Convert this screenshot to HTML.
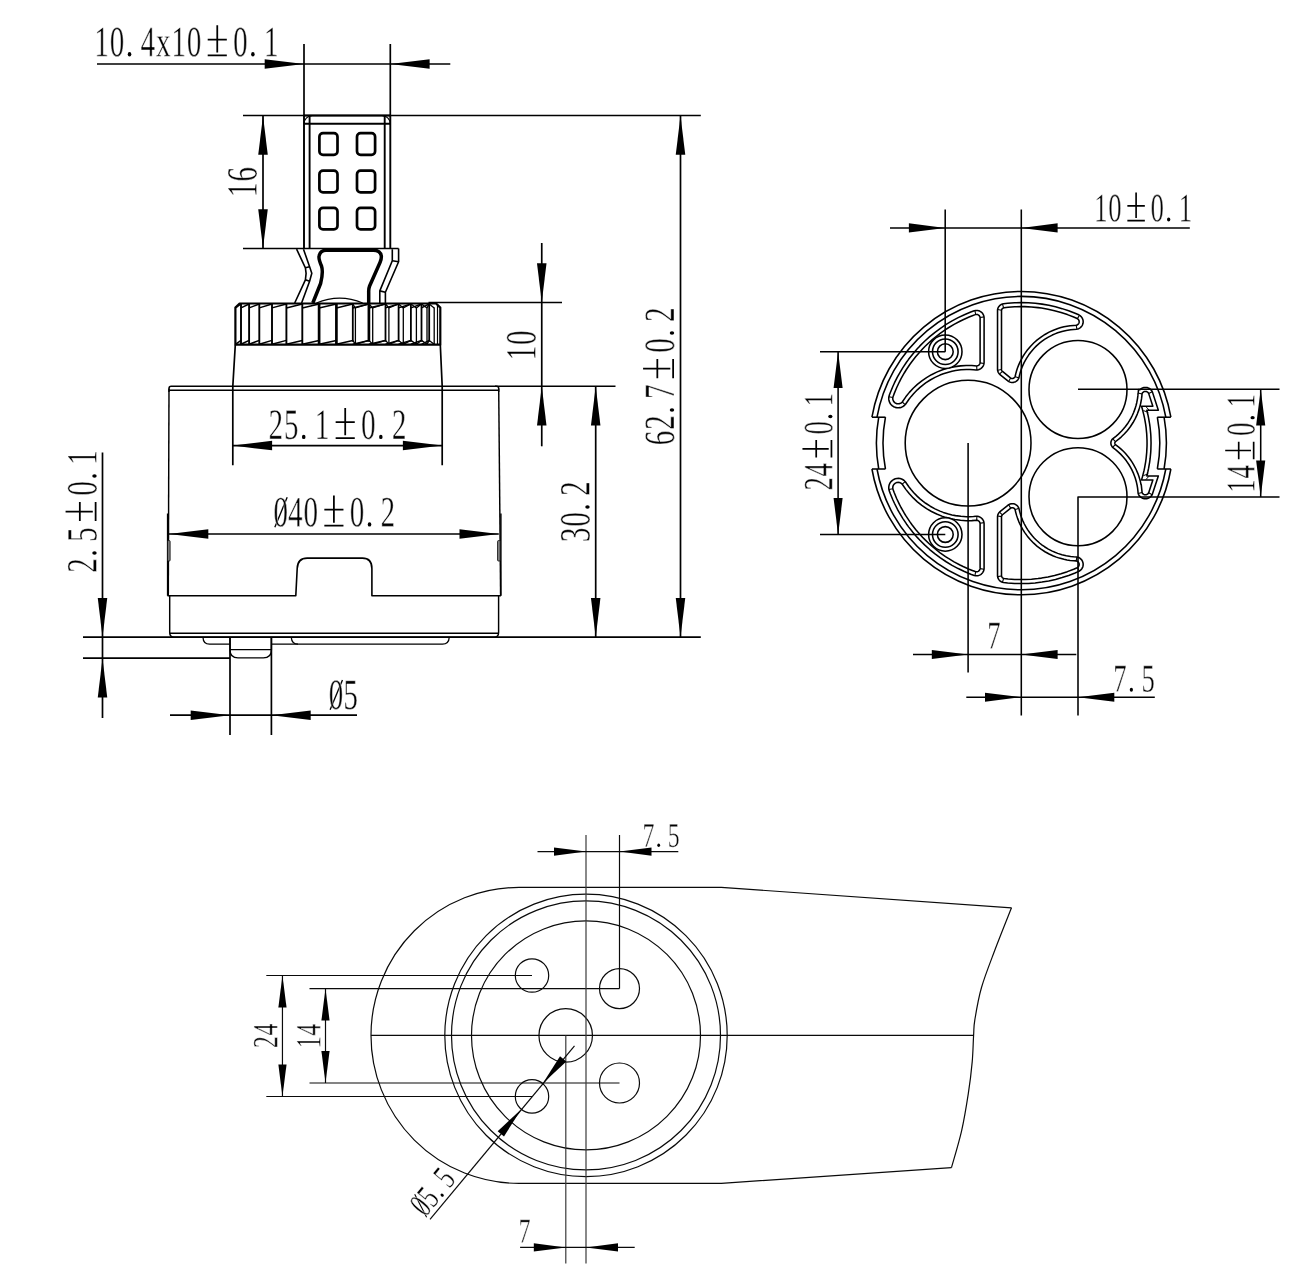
<!DOCTYPE html>
<html><head><meta charset="utf-8"><title>Cartridge drawing</title>
<style>
html,body{margin:0;padding:0;background:#fff;}
body{width:1297px;height:1280px;overflow:hidden;font-family:"Liberation Serif",serif;}
svg{display:block;}
svg text{font-family:"Liberation Serif",serif;}
</style></head><body>
<svg width="1297" height="1280" viewBox="0 0 1297 1280" fill="none" stroke-linecap="butt" stroke-linejoin="round">
<rect x="0" y="0" width="1297" height="1280" fill="#fff"/>
<defs><path id="g0" d="M462 -330Q462 10 247 10Q144 10 91 -77Q38 -164 38 -330Q38 -493 91 -579Q144 -665 251 -665Q354 -665 408 -580Q462 -495 462 -330ZM372 -330Q372 -487 342 -557Q312 -626 247 -626Q184 -626 156 -561Q128 -495 128 -330Q128 -164 156 -96Q185 -29 247 -29Q312 -29 342 -100Q372 -171 372 -330Z" vector-effect="non-scaling-stroke"/><path id="g1" d="M306 -39 440 -26V0H88V-26L222 -39V-573L90 -526V-552L281 -660H306Z" vector-effect="non-scaling-stroke"/><path id="g2" d="M445 0H44V-72L135 -154Q222 -231 263 -278Q304 -326 322 -376Q340 -426 340 -491Q340 -555 311 -588Q282 -621 217 -621Q191 -621 164 -614Q136 -607 115 -595L98 -515H66V-641Q155 -662 217 -662Q324 -662 378 -617Q432 -573 432 -491Q432 -437 411 -388Q390 -339 346 -291Q302 -243 200 -157Q157 -120 108 -75H445Z" vector-effect="non-scaling-stroke"/><path id="g3" d="M461 -178Q461 -90 400 -40Q340 10 229 10Q136 10 53 -11L48 -149H80L102 -57Q121 -46 156 -39Q191 -31 221 -31Q298 -31 334 -66Q371 -101 371 -183Q371 -248 337 -281Q304 -314 233 -318L163 -322V-362L233 -366Q288 -369 314 -400Q341 -432 341 -495Q341 -561 312 -591Q284 -621 221 -621Q195 -621 167 -614Q139 -607 117 -595L100 -515H68V-641Q116 -654 151 -658Q187 -662 221 -662Q431 -662 431 -501Q431 -433 394 -393Q356 -353 288 -343Q377 -333 419 -292Q461 -251 461 -178Z" vector-effect="non-scaling-stroke"/><path id="g4" d="M396 -144V0H312V-144H20V-209L339 -658H396V-214H484V-144ZM312 -543H309L75 -214H312Z" vector-effect="non-scaling-stroke"/><path id="g5" d="M237 -383Q350 -383 406 -336Q461 -290 461 -195Q461 -96 401 -43Q341 10 229 10Q136 10 63 -11L58 -149H90L112 -57Q134 -45 164 -38Q194 -31 221 -31Q298 -31 335 -67Q371 -104 371 -190Q371 -250 355 -281Q340 -312 306 -327Q271 -342 214 -342Q169 -342 127 -330H80V-655H412V-580H124V-371Q177 -383 237 -383Z" vector-effect="non-scaling-stroke"/><path id="g6" d="M470 -203Q470 -101 419 -46Q367 10 270 10Q160 10 101 -76Q43 -162 43 -323Q43 -429 74 -505Q104 -582 160 -622Q215 -662 288 -662Q359 -662 430 -645V-532H398L381 -599Q365 -608 337 -615Q310 -621 288 -621Q217 -621 177 -552Q137 -483 133 -350Q213 -392 293 -392Q379 -392 425 -344Q470 -295 470 -203ZM268 -29Q327 -29 354 -67Q380 -105 380 -194Q380 -274 355 -310Q330 -345 275 -345Q208 -345 133 -321Q133 -172 167 -100Q200 -29 268 -29Z" vector-effect="non-scaling-stroke"/><path id="g7" d="M98 -500H66V-655H471V-617L179 0H116L403 -580H115Z" vector-effect="non-scaling-stroke"/><path id="gx" d="M488 -22V0H280V-22L341 -33L235 -196L111 -32L174 -22V0H9V-22L62 -30L213 -229L80 -425L26 -437V-459H234V-437L173 -424L261 -292L363 -425L300 -437V-459H465V-437L412 -427L283 -260L434 -32Z" vector-effect="non-scaling-stroke"/></defs>
<g transform="translate(93.9 56.2) rotate(0)"><ellipse cx="35.62" cy="-2.02" rx="1.77" ry="2.22" fill="#000"/><path d="M113.8 -16.67H132.92M123.36 -30.92V-3.71M113.8 -0.88H132.92" stroke="#000" stroke-width="1.77" fill="none"/><ellipse cx="158.98" cy="-2.02" rx="1.77" ry="2.22" fill="#000"/><g fill="#000" stroke="#fff" stroke-width="0.5"><use href="#g1" transform="translate(0.42 0) scale(0.02916 0.04318)"/><use href="#g0" transform="translate(15.84 0) scale(0.02916 0.04318)"/><use href="#g4" transform="translate(46.68 0) scale(0.02916 0.04318)"/><use href="#gx" transform="translate(62.1 0) scale(0.02916 0.04318)"/><use href="#g1" transform="translate(77.52 0) scale(0.02916 0.04318)"/><use href="#g0" transform="translate(92.94 0) scale(0.02916 0.04318)"/><use href="#g0" transform="translate(139.2 0) scale(0.02916 0.04318)"/><use href="#g1" transform="translate(170.04 0) scale(0.02916 0.04318)"/></g></g>
<path d="M97 64L450.3 64" stroke="#000" stroke-width="1.7"/>
<path d="M304 64L264.7 68.75L264.7 59.25Z" fill="#000" stroke="none"/>
<path d="M390.3 64L429.6 59.25L429.6 68.75Z" fill="#000" stroke="none"/>
<path d="M304 44L304 116" stroke="#000" stroke-width="1.7"/>
<path d="M390.3 44L390.3 116" stroke="#000" stroke-width="1.7"/>
<path d="M243 115.5L700.8 115.5" stroke="#000" stroke-width="1.7"/>
<path d="M243 248.5L398.6 248.5" stroke="#000" stroke-width="1.7"/>
<path d="M263 115.5L263 248.5" stroke="#000" stroke-width="1.7"/>
<path d="M263 115.5L267.75 154.8L258.25 154.8Z" fill="#000" stroke="none"/>
<path d="M263 248.5L258.25 209.2L267.75 209.2Z" fill="#000" stroke="none"/>
<g transform="translate(256.6 197.42) rotate(-90)"><g fill="#000" stroke="#fff" stroke-width="0.5"><use href="#g1" transform="translate(0.42 0) scale(0.02916 0.04318)"/><use href="#g6" transform="translate(15.84 0) scale(0.02916 0.04318)"/></g></g>
<path d="M541.75 243L541.75 446.3" stroke="#000" stroke-width="1.7"/>
<path d="M541.75 302.5L537 263.2L546.5 263.2Z" fill="#000" stroke="none"/>
<path d="M541.75 386.25L546.5 425.55L537 425.55Z" fill="#000" stroke="none"/>
<path d="M428.5 302.5L562 302.5" stroke="#000" stroke-width="1.7"/>
<path d="M495 386.25L615.5 386.25" stroke="#000" stroke-width="1.7"/>
<g transform="translate(535.5 360.82) rotate(-90)"><g fill="#000" stroke="#fff" stroke-width="0.5"><use href="#g1" transform="translate(0.42 0) scale(0.02916 0.04318)"/><use href="#g0" transform="translate(15.84 0) scale(0.02916 0.04318)"/></g></g>
<path d="M595.7 386.25L595.7 637.2" stroke="#000" stroke-width="1.7"/>
<path d="M595.7 386.25L600.45 425.55L590.95 425.55Z" fill="#000" stroke="none"/>
<path d="M595.7 637.2L590.95 597.9L600.45 597.9Z" fill="#000" stroke="none"/>
<g transform="translate(589.5 542.54) rotate(-90)"><ellipse cx="35.62" cy="-2.02" rx="1.77" ry="2.22" fill="#000"/><g fill="#000" stroke="#fff" stroke-width="0.5"><use href="#g3" transform="translate(0.42 0) scale(0.02916 0.04318)"/><use href="#g0" transform="translate(15.84 0) scale(0.02916 0.04318)"/><use href="#g2" transform="translate(46.68 0) scale(0.02916 0.04318)"/></g></g>
<path d="M680.5 115.5L680.5 637.2" stroke="#000" stroke-width="1.7"/>
<path d="M680.5 115.5L685.25 154.8L675.75 154.8Z" fill="#000" stroke="none"/>
<path d="M680.5 637.2L675.75 597.9L685.25 597.9Z" fill="#000" stroke="none"/>
<g transform="translate(674 445.69) rotate(-90)"><ellipse cx="35.62" cy="-2.02" rx="1.77" ry="2.22" fill="#000"/><path d="M67.54 -16.67H86.66M77.1 -30.92V-3.71M67.54 -0.88H86.66" stroke="#000" stroke-width="1.77" fill="none"/><ellipse cx="112.72" cy="-2.02" rx="1.77" ry="2.22" fill="#000"/><g fill="#000" stroke="#fff" stroke-width="0.5"><use href="#g6" transform="translate(0.42 0) scale(0.02916 0.04318)"/><use href="#g2" transform="translate(15.84 0) scale(0.02916 0.04318)"/><use href="#g7" transform="translate(46.68 0) scale(0.02916 0.04318)"/><use href="#g0" transform="translate(92.94 0) scale(0.02916 0.04318)"/><use href="#g2" transform="translate(123.78 0) scale(0.02916 0.04318)"/></g></g>
<path d="M83 637.2L700.8 637.2" stroke="#000" stroke-width="1.7"/>
<path d="M102.5 452.5L102.5 718" stroke="#000" stroke-width="1.7"/>
<path d="M102.5 637.2L97.75 597.9L107.25 597.9Z" fill="#000" stroke="none"/>
<path d="M102.5 658.2L107.25 697.5L97.75 697.5Z" fill="#000" stroke="none"/>
<path d="M83 658.2L230 658.2" stroke="#000" stroke-width="1.7"/>
<g transform="translate(96.5 573.2) rotate(-90)"><ellipse cx="20.2" cy="-2.02" rx="1.77" ry="2.22" fill="#000"/><path d="M52.12 -16.67H71.24M61.68 -30.92V-3.71M52.12 -0.88H71.24" stroke="#000" stroke-width="1.77" fill="none"/><ellipse cx="97.3" cy="-2.02" rx="1.77" ry="2.22" fill="#000"/><g fill="#000" stroke="#fff" stroke-width="0.5"><use href="#g2" transform="translate(0.42 0) scale(0.02916 0.04318)"/><use href="#g5" transform="translate(31.26 0) scale(0.02916 0.04318)"/><use href="#g0" transform="translate(77.52 0) scale(0.02916 0.04318)"/><use href="#g1" transform="translate(108.36 0) scale(0.02916 0.04318)"/></g></g>
<path d="M232.8 445.6L442.2 445.6" stroke="#000" stroke-width="1.7"/>
<path d="M232.8 445.6L272.1 440.85L272.1 450.35Z" fill="#000" stroke="none"/>
<path d="M442.2 445.6L402.9 450.35L402.9 440.85Z" fill="#000" stroke="none"/>
<g transform="translate(268.11 438.9) rotate(0)"><ellipse cx="35.62" cy="-2.02" rx="1.77" ry="2.22" fill="#000"/><path d="M67.54 -16.67H86.66M77.1 -30.92V-3.71M67.54 -0.88H86.66" stroke="#000" stroke-width="1.77" fill="none"/><ellipse cx="112.72" cy="-2.02" rx="1.77" ry="2.22" fill="#000"/><g fill="#000" stroke="#fff" stroke-width="0.5"><use href="#g2" transform="translate(0.42 0) scale(0.02916 0.04318)"/><use href="#g5" transform="translate(15.84 0) scale(0.02916 0.04318)"/><use href="#g1" transform="translate(46.68 0) scale(0.02916 0.04318)"/><use href="#g0" transform="translate(92.94 0) scale(0.02916 0.04318)"/><use href="#g2" transform="translate(123.78 0) scale(0.02916 0.04318)"/></g></g>
<path d="M169 534L498.8 534" stroke="#000" stroke-width="1.7"/>
<path d="M169 534L208.3 529.25L208.3 538.75Z" fill="#000" stroke="none"/>
<path d="M498.8 534L459.5 538.75L459.5 529.25Z" fill="#000" stroke="none"/>
<g transform="translate(272.22 526.4) rotate(0)"><path d="M2.62 0.85L14.96 -29.07" stroke="#000" stroke-width="1.33"/><path d="M52.12 -16.67H71.24M61.68 -30.92V-3.71M52.12 -0.88H71.24" stroke="#000" stroke-width="1.77" fill="none"/><ellipse cx="97.3" cy="-2.02" rx="1.77" ry="2.22" fill="#000"/><g fill="#000" stroke="#fff" stroke-width="0.5"><use href="#g0" transform="translate(1.19 0) scale(0.02916 0.04318)"/><use href="#g4" transform="translate(15.84 0) scale(0.02916 0.04318)"/><use href="#g0" transform="translate(31.26 0) scale(0.02916 0.04318)"/><use href="#g0" transform="translate(77.52 0) scale(0.02916 0.04318)"/><use href="#g2" transform="translate(108.36 0) scale(0.02916 0.04318)"/></g></g>
<path d="M170 715.2L357 715.2" stroke="#000" stroke-width="1.7"/>
<path d="M230 715.2L190.7 719.95L190.7 710.45Z" fill="#000" stroke="none"/>
<path d="M271.4 715.2L310.7 710.45L310.7 719.95Z" fill="#000" stroke="none"/>
<path d="M230 637.5L230 735" stroke="#000" stroke-width="1.7"/>
<path d="M271.4 637.5L271.4 735" stroke="#000" stroke-width="1.7"/>
<g transform="translate(327.5 709) rotate(0)"><path d="M2.62 0.85L14.96 -29.07" stroke="#000" stroke-width="1.33"/><g fill="#000" stroke="#fff" stroke-width="0.5"><use href="#g0" transform="translate(1.19 0) scale(0.02916 0.04318)"/><use href="#g5" transform="translate(15.84 0) scale(0.02916 0.04318)"/></g></g>
<path d="M304 248.5V115.5H390.3V248.5" stroke="#000" stroke-width="1.9" fill="none"/>
<path d="M309.6 248.5V115.5M384.7 248.5V115.5" stroke="#000" stroke-width="1.9" fill="none"/>
<path d="M304 123.8L390.3 123.8" stroke="#000" stroke-width="1.9"/>
<path d="M304 123.8A8 8 0 0 1 312 115.7M390.3 123.8A8 8 0 0 0 382.3 115.7" stroke="#000" stroke-width="1.2" fill="none"/>
<rect x="319.4" y="133.2" width="18.1" height="21.6" rx="3.6" stroke="#000" stroke-width="2.7"/>
<rect x="319.4" y="170.7" width="18.1" height="21.6" rx="3.6" stroke="#000" stroke-width="2.7"/>
<rect x="319.4" y="207.8" width="18.1" height="21.6" rx="3.6" stroke="#000" stroke-width="2.7"/>
<rect x="357" y="133.2" width="18.1" height="21.6" rx="3.6" stroke="#000" stroke-width="2.7"/>
<rect x="357" y="170.7" width="18.1" height="21.6" rx="3.6" stroke="#000" stroke-width="2.7"/>
<rect x="357" y="207.8" width="18.1" height="21.6" rx="3.6" stroke="#000" stroke-width="2.7"/>
<path d="M296.6 249.2L305.4 267.8L306.1 273.3L305.4 279.8L294.7 303" stroke="#000" stroke-width="1.6" fill="none"/>
<path d="M303.5 249.2L309.6 266.8L311.8 273.3L309.6 281.2L301.6 303" stroke="#000" stroke-width="1.6" fill="none"/>
<path d="M305.4 267.8L309.6 266.8M305.4 279.8L309.6 281.2" stroke="#000" stroke-width="1.6" fill="none"/>
<path d="M398.6 248.5V261.7L385.4 292.3V303" stroke="#000" stroke-width="1.6" fill="none"/>
<path d="M392.3 249.2V260.8L379.8 290.9V303" stroke="#000" stroke-width="1.6" fill="none"/>
<path d="M392.3 260.8L398.6 261.7M379.8 290.9L385.4 292.3" stroke="#000" stroke-width="1.6" fill="none"/>
<path d="M312.8 303L320.6 283.5Q323.5 272 321.5 266Q318.2 258.5 319.2 255.5Q320.5 250.2 326 250.2H373.5Q380.5 250.4 381.3 256Q381.6 259 380 262.5L369.6 286Q368.6 288.5 368.7 292V303" stroke="#000" stroke-width="3.5" fill="none"/>
<path d="M316.5 303Q339.6 293.2 362.7 303" stroke="#000" stroke-width="1.3" fill="none"/>
<path d="M235.4 344.7 V307.6L239.6 303.5H436.1L440.3 307.6V344.7Z" stroke="#000" stroke-width="2.2" fill="none"/>
<path d="M241 303.5L241 344.7" stroke="#000" stroke-width="1.9"/>
<path d="M249.1 303.5L249.1 344.7" stroke="#000" stroke-width="1.9"/>
<path d="M259.3 303.5L259.3 344.7" stroke="#000" stroke-width="1.9"/>
<path d="M272 303.5L272 344.7" stroke="#000" stroke-width="1.9"/>
<path d="M286.4 303.5L286.4 344.7" stroke="#000" stroke-width="1.9"/>
<path d="M302.3 303.5L302.3 344.7" stroke="#000" stroke-width="1.9"/>
<path d="M319.1 303.5L319.1 344.7" stroke="#000" stroke-width="2.7"/>
<path d="M336.4 303.5L336.4 344.7" stroke="#000" stroke-width="2.7"/>
<path d="M235.4 307.9L241 304M235.4 344.3L241 340.4M241 307.9L249.1 304M241 344.3L249.1 340.4M249.1 307.9L259.3 304M249.1 344.3L259.3 340.4M259.3 307.9L272 304M259.3 344.3L272 340.4M272 307.9L286.4 304M272 344.3L286.4 340.4M286.4 307.9L302.3 304M286.4 344.3L302.3 340.4M302.3 307.9L319.1 304M302.3 344.3L319.1 340.4M319.1 307.9L336.4 304M319.1 344.3L336.4 340.4M336.4 307.9L352.8 304M336.4 344.3L352.8 340.4M352.8 307.9L368.9 304M352.8 344.3L368.9 340.4M368.9 307.9L385.5 304M368.9 344.3L385.5 340.4M385.5 307.9L398.6 304M385.5 344.3L398.6 340.4M398.6 307.9L410.9 304M398.6 344.3L410.9 340.4M410.9 307.9L421.5 304M410.9 344.3L421.5 340.4M421.5 307.9L429.2 304M421.5 344.3L429.2 340.4" stroke="#000" stroke-width="1.5" fill="none"/>
<path d="M352.8 303.5L352.8 341.7" stroke="#000" stroke-width="1.8"/>
<path d="M355.4 307.5L355.4 344.7" stroke="#000" stroke-width="1.3"/>
<path d="M368.9 303.5L368.9 341.7" stroke="#000" stroke-width="2.7"/>
<path d="M372.7 307.5L372.7 344.7" stroke="#000" stroke-width="1.3"/>
<path d="M385.5 303.5L385.5 341.7" stroke="#000" stroke-width="1.8"/>
<path d="M388.9 307.5L388.9 344.7" stroke="#000" stroke-width="1.3"/>
<path d="M398.6 303.5L398.6 341.7" stroke="#000" stroke-width="1.8"/>
<path d="M403.3 307.5L403.3 344.7" stroke="#000" stroke-width="1.3"/>
<path d="M410.9 303.5L410.9 341.7" stroke="#000" stroke-width="1.8"/>
<path d="M416.4 307.5L416.4 344.7" stroke="#000" stroke-width="1.3"/>
<path d="M421.5 303.5L421.5 341.7" stroke="#000" stroke-width="1.8"/>
<path d="M427 307.5L427 344.7" stroke="#000" stroke-width="1.3"/>
<path d="M429.2 303.5L429.2 341.7" stroke="#000" stroke-width="1.8"/>
<path d="M434.2 307.5L434.2 344.7" stroke="#000" stroke-width="1.3"/>
<path d="M352.8 304L355.4 308M352.8 340.4L355.4 344.3M368.9 304L372.7 308M368.9 340.4L372.7 344.3M385.5 304L388.9 308M385.5 340.4L388.9 344.3M398.6 304L403.3 308M398.6 340.4L403.3 344.3M410.9 304L416.4 308M410.9 340.4L416.4 344.3M421.5 304L427 308M421.5 340.4L427 344.3M429.2 304L434.2 308M429.2 340.4L434.2 344.3M355.4 307.9L368.9 304M355.4 344.3L368.9 340.4M372.7 307.9L385.5 304M372.7 344.3L385.5 340.4M388.9 307.9L398.6 304M388.9 344.3L398.6 340.4M403.3 307.9L410.9 304M403.3 344.3L410.9 340.4M416.4 307.9L421.5 304M416.4 344.3L421.5 340.4M427 307.9L429.2 304M427 344.3L429.2 340.4" stroke="#000" stroke-width="1.3" fill="none"/>
<path d="M437.5 304.5L437.5 344.7" stroke="#000" stroke-width="1.2"/>
<path d="M235.3 344.7L232.8 386.3V465.3" stroke="#000" stroke-width="1.7" fill="none"/>
<path d="M440.3 344.7L442.2 386.3V465.3" stroke="#000" stroke-width="1.7" fill="none"/>
<path d="M169 392V388.4Q169 386.3 171.2 386.3H496.4Q498.7 386.3 498.7 388.4V392" stroke="#000" stroke-width="1.45" fill="none"/>
<path d="M169 390.3L498.7 390.3" stroke="#000" stroke-width="1.45"/>
<path d="M169 388.4L168.3 595.7" stroke="#000" stroke-width="1.45" fill="none"/>
<path d="M498.7 388.4L500.6 595.7" stroke="#000" stroke-width="1.45" fill="none"/>
<path d="M167.6 513.5V595.7" stroke="#000" stroke-width="1.45" fill="none"/>
<path d="M500.9 513.5V595.7" stroke="#000" stroke-width="1.45" fill="none"/>
<rect x="167.7" y="540.6" width="2.4" height="20.4" rx="0.8" fill="#8a8a8a" stroke="#111" stroke-width="0.9"/>
<rect x="497.6" y="540.6" width="2.6" height="20.4" rx="0.8" fill="#8a8a8a" stroke="#111" stroke-width="0.9"/>
<path d="M167.5 595.7H295.8L297.2 568.5Q297.6 558.1 307.2 558.1H362.4Q371.9 558.1 371.9 568.5V595.7H500.9" stroke="#000" stroke-width="1.6" fill="none"/>
<path d="M169.7 595.7V632.5Q169.7 637.1 174.2 637.1H494.2Q498.6 637.1 498.6 632.5V595.7" stroke="#000" stroke-width="1.45" fill="none"/>
<path d="M169.7 633.2L498.6 633.2" stroke="#000" stroke-width="1.45"/>
<path d="M203 637.5Q203.3 644.2 209.5 644.2H230" stroke="#000" stroke-width="1.3" fill="none"/>
<path d="M271.4 644.2H442.5Q448.8 644.2 449.2 637.5" stroke="#000" stroke-width="1.3" fill="none"/>
<path d="M291.3 637.5Q291.8 644.2 298 644.2" stroke="#000" stroke-width="1.3" fill="none"/>
<path d="M230 637.5V650Q230 657.9 238 657.9H263.4Q271.4 657.9 271.4 650V637.5" stroke="#000" stroke-width="1.4" fill="none"/>
<path d="M230 649.7L271.4 649.7" stroke="#000" stroke-width="1.3"/>
<path d="M871.93 417.2A151.7 151.7 0 0 1 1170.87 417.2" stroke="#000" stroke-width="1.55" fill="none"/>
<path d="M1170.87 469A151.7 151.7 0 0 1 871.93 469" stroke="#000" stroke-width="1.55" fill="none"/>
<path d="M877 417.2A146.7 146.7 0 0 1 1165.8 417.2" stroke="#000" stroke-width="1.55" fill="none"/>
<path d="M1165.8 469A146.7 146.7 0 0 1 877 469" stroke="#000" stroke-width="1.55" fill="none"/>
<path d="M1164.07 417.2A145 145 0 0 1 1164.07 469" stroke="#000" stroke-width="1.55" fill="none"/>
<path d="M878.73 469A145 145 0 0 1 878.73 417.2" stroke="#000" stroke-width="1.55" fill="none"/>
<path d="M1157.35 417.2A138.4 138.4 0 0 1 1157.35 469" stroke="#000" stroke-width="1.55" fill="none"/>
<path d="M885.45 469A138.4 138.4 0 0 1 885.45 417.2" stroke="#000" stroke-width="1.55" fill="none"/>
<path d="M871.93 417.2L885.45 417.2" stroke="#000" stroke-width="1.55"/>
<path d="M1170.87 417.2L1157.35 417.2" stroke="#000" stroke-width="1.55"/>
<path d="M871.93 469L885.45 469" stroke="#000" stroke-width="1.55"/>
<path d="M1170.87 469L1157.35 469" stroke="#000" stroke-width="1.55"/>
<circle cx="968.1" cy="443.1" r="62.9" stroke="#000" stroke-width="1.55" fill="none"/>
<circle cx="1078" cy="389.5" r="49" stroke="#000" stroke-width="1.55" fill="none"/>
<circle cx="1078" cy="496.7" r="49" stroke="#000" stroke-width="1.55" fill="none"/>
<path d="M984.1 318L984.02 316.91L983.78 315.82L983.38 314.79L982.83 313.82L982.28 313.08L981.5 312.29L980.61 311.62L979.63 311.09L978.76 310.76L977.68 310.51L976.76 310.42L975.65 310.46L974.2 310.77L970.76 312.04L964.39 314.69L958.16 317.64L952.08 320.89L946.16 324.44L940.43 328.28L935.02 332.29L929.69 336.66L924.58 341.29L919.7 346.16L917.24 348.81L912.84 353.91L908.6 359.34L906.48 362.27L902.74 367.86L899.19 373.78L897.45 376.94L894.42 382.96L892.92 386.24L890.34 392.46L889.27 395.34L888.96 396.45L888.78 397.59L888.75 398.74L888.86 399.89L889.06 400.86L889.43 401.95L889.93 402.99L890.55 403.97L891.28 404.85L892.43 405.89L893.79 406.76L895.27 407.38L896.85 407.74L898.46 407.83L900.06 407.64L901.6 407.17L903.05 406.45L904.35 405.5L905.36 404.46L909 399.24L911.22 396.39L913.55 393.69L917.33 389.81L920.04 387.36L922.84 385.06L925.7 382.94L930.24 379.98L934.99 377.37L939.96 375.09L943.33 373.8L948.45 372.17L952 371.28L955.54 370.58L960.91 369.85L966.27 369.52L969.93 369.52L973.49 369.7L976.03 369.93L977.33 369.89L978.42 369.69L979.64 369.26L980.77 368.63L981.64 367.94L982.63 366.84L983.38 365.57L983.88 364.17L984.09 362.71L984.1 318Z" stroke="#000" stroke-width="1.55" fill="none"/>
<path d="M980.1 318.03L980.03 317.32L979.79 316.57L979.4 315.88L978.87 315.3L978.22 314.85L977.49 314.56L976.71 314.42L975.92 314.46L975.33 314.61L972.33 315.73L969.11 317.01L963.09 319.68L959.98 321.2L954.07 324.36L948.42 327.75L945.52 329.64L940.13 333.43L937.38 335.53L932.29 339.7L929.69 342L924.92 346.54L922.5 349.02L918.08 353.9L915.85 356.55L911.8 361.74L909.77 364.55L906.11 370.03L904.29 372.97L901.05 378.7L899.45 381.78L896.63 387.73L894.07 393.92L892.96 396.94L892.75 398.38L892.92 399.8L893.42 401.04L894.29 402.21L895.08 402.88L895.89 403.34L896.76 403.65L897.69 403.81L898.62 403.81L899.64 403.62L900.5 403.29L901.3 402.81L901.91 402.3L902.44 401.71L905.8 396.84L909.37 392.38L913.2 388.26L917.38 384.37L921.84 380.8L926.55 377.56L931.48 374.69L936.7 372.14L941.91 370.05L945.62 368.83L951.05 367.4L954.88 366.63L960.54 365.87L966.15 365.52L971.86 365.59L976.72 365.93L977.32 365.84L977.99 365.62L978.52 365.32L979 364.93L979.45 364.4L979.8 363.79L980.01 363.12L980.1 362.43L980.1 318.03Z" stroke="#000" stroke-width="1.55" fill="none"/>
<path d="M984.1 568.2L984.09 523.49L983.88 522.03L983.38 520.63L982.63 519.36L981.64 518.26L980.77 517.57L979.64 516.94L978.6 516.56L977.33 516.31L976.03 516.27L973.49 516.5L969.93 516.68L966.27 516.68L960.91 516.35L955.54 515.62L952 514.92L948.45 514.03L943.33 512.4L939.96 511.11L934.99 508.83L930.24 506.22L925.7 503.26L922.84 501.14L920.04 498.84L917.33 496.39L913.55 492.51L911.22 489.81L909 486.96L905.36 481.74L904.35 480.7L903.05 479.75L901.6 479.03L900.06 478.56L898.46 478.37L896.85 478.46L895.27 478.82L893.79 479.44L892.43 480.31L891.28 481.35L890.55 482.23L889.93 483.21L889.43 484.25L889.06 485.34L888.86 486.31L888.75 487.46L888.78 488.61L888.96 489.75L889.27 490.86L890.34 493.74L892.92 499.96L894.42 503.24L897.45 509.26L899.19 512.42L902.74 518.34L906.48 523.93L908.6 526.86L912.84 532.29L917.24 537.39L919.7 540.04L924.58 544.91L929.69 549.54L935.02 553.91L940.43 557.92L946.16 561.76L952.08 565.31L958.16 568.56L964.39 571.51L970.76 574.16L974.2 575.43L975.65 575.74L976.58 575.78L977.68 575.69L978.59 575.49L979.63 575.11L980.61 574.58L981.35 574.03L982.16 573.26L982.83 572.38L983.38 571.41L983.78 570.38L984.02 569.29L984.1 568.2Z" stroke="#000" stroke-width="1.55" fill="none"/>
<path d="M980.1 568.17L980.1 523.77L980.01 523.08L979.8 522.41L979.45 521.8L979 521.27L978.52 520.88L977.99 520.58L977.32 520.36L976.72 520.27L971.86 520.61L966.15 520.68L960.54 520.33L954.88 519.57L951.05 518.8L945.62 517.37L941.91 516.15L936.7 514.06L931.48 511.51L926.55 508.64L921.84 505.4L917.38 501.83L913.2 497.94L909.37 493.82L905.8 489.36L902.44 484.49L901.91 483.9L901.3 483.39L900.5 482.91L899.64 482.58L898.62 482.39L897.69 482.39L896.76 482.55L895.89 482.86L895.08 483.32L894.29 483.99L893.42 485.16L892.92 486.4L892.75 487.82L892.96 489.26L894.07 492.28L896.63 498.47L899.45 504.42L901.05 507.5L904.29 513.23L906.11 516.17L909.77 521.65L911.8 524.46L915.85 529.65L918.08 532.3L922.5 537.18L924.92 539.66L929.69 544.2L932.29 546.5L937.38 550.67L940.13 552.77L945.52 556.56L948.42 558.45L954.07 561.84L959.98 565L963.09 566.52L969.11 569.19L972.33 570.47L975.33 571.59L975.92 571.74L976.71 571.78L977.49 571.64L978.22 571.35L978.87 570.9L979.4 570.32L979.79 569.63L980.03 568.88L980.1 568.17Z" stroke="#000" stroke-width="1.55" fill="none"/>
<path d="M1003.55 303.75L1002.4 304L1001.29 304.46L1000.29 305.09L999.4 305.89L998.76 306.68L998.16 307.71L997.75 308.83L997.53 310L997.53 369.89L997.76 371.08L998.25 372.36L998.89 373.39L999.69 374.29L1008.13 381.17L1009.32 381.87L1010.62 382.32L1011.64 382.5L1012.67 382.51L1013.69 382.38L1014.69 382.09L1015.63 381.67L1016.5 381.11L1017.27 380.42L1017.94 379.63L1018.56 378.6L1018.95 377.64L1019.61 374.85L1020.39 372.04L1021.84 367.82L1022.96 365.12L1024.22 362.45L1026.36 358.57L1028.79 354.82L1030.55 352.45L1032.43 350.17L1034.39 348L1036.48 345.91L1039.82 342.95L1042.12 341.16L1044.54 339.46L1048.34 337.11L1052.28 335.07L1054.98 333.88L1057.7 332.83L1061.96 331.48L1066.27 330.45L1070.65 329.75L1073.55 329.46L1076.62 329.27L1077.67 329.05L1078.72 328.66L1080.16 327.8L1081.4 326.62L1081.96 325.87L1082.4 325.09L1082.96 323.52L1083.15 322.38L1083.15 321.11L1082.96 319.97L1082.57 318.77L1082.05 317.77L1081.38 316.84L1080.48 315.94L1079.54 315.26L1078.72 314.83L1075.1 313.27L1068.66 310.79L1062.11 308.63L1055.47 306.79L1048.88 305.31L1042.09 304.13L1035.24 303.28L1028.37 302.77L1021.47 302.6L1014.58 302.77L1007.7 303.27L1003.55 303.75Z" stroke="#000" stroke-width="1.55" fill="none"/>
<path d="M1004.11 307.71L1003.13 308.01L1002.31 308.63L1001.72 309.54L1001.5 310.53L1001.51 369.5L1001.61 370.01L1001.82 370.56L1002.1 371L1002.49 371.43L1010.44 377.9L1011.07 378.27L1011.71 378.47L1012.66 378.5L1013.58 378.22L1014.36 377.68L1014.94 376.91L1015.17 376.29L1015.73 373.86L1016.58 370.82L1017.57 367.83L1018.7 364.89L1019.95 362.09L1021.36 359.27L1022.91 356.53L1024.6 353.87L1027.36 350.04L1030.4 346.42L1033.7 343.03L1037.24 339.9L1041 337.04L1044.96 334.46L1049.1 332.17L1053.39 330.2L1057.9 328.53L1060.92 327.61L1063.98 326.85L1066.98 326.25L1070.1 325.79L1073.74 325.44L1075.88 325.33L1076.66 325.18L1077.53 324.76L1078.27 324.13L1078.81 323.33L1079.11 322.41L1079.17 321.53L1079.01 320.66L1078.64 319.86L1078.09 319.17L1077.16 318.51L1073.68 317.01L1067.43 314.6L1061.07 312.49L1054.52 310.68L1047.98 309.21L1041.48 308.09L1038.06 307.62L1031.39 306.97L1024.8 306.64L1021.35 306.6L1014.65 306.77L1008.07 307.25L1004.11 307.71Z" stroke="#000" stroke-width="1.55" fill="none"/>
<path d="M1003.55 582.45L1007.7 582.93L1014.58 583.43L1021.47 583.6L1028.37 583.43L1035.1 582.93L1041.94 582.09L1048.74 580.91L1055.47 579.41L1062.11 577.57L1068.66 575.41L1075.1 572.93L1078.72 571.37L1079.54 570.94L1080.48 570.26L1081.38 569.36L1082.05 568.43L1082.57 567.43L1082.96 566.23L1083.15 565.09L1083.15 563.82L1082.96 562.68L1082.4 561.11L1081.96 560.33L1081.4 559.58L1080.16 558.4L1078.72 557.54L1077.71 557.16L1076.62 556.93L1073.55 556.74L1070.65 556.45L1066.27 555.75L1061.93 554.71L1057.7 553.37L1054.98 552.32L1052.28 551.13L1048.34 549.09L1044.54 546.74L1042.15 545.06L1039.82 543.25L1036.48 540.29L1034.41 538.22L1032.43 536.03L1029.64 532.55L1027.94 530.13L1026.36 527.63L1024.22 523.75L1022.97 521.11L1021.84 518.38L1020.39 514.16L1019.61 511.35L1018.95 508.56L1018.56 507.6L1017.94 506.57L1017.27 505.78L1016.5 505.09L1015.63 504.53L1014.69 504.11L1013.69 503.82L1012.67 503.69L1011.64 503.7L1010.62 503.88L1009.32 504.33L1008.13 505.03L999.69 511.91L998.89 512.81L998.25 513.84L997.76 515.12L997.53 516.31L997.53 576.2L997.75 577.37L998.16 578.49L998.66 579.38L999.4 580.31L1000.29 581.11L1001.29 581.74L1002.4 582.2L1003.55 582.45Z" stroke="#000" stroke-width="1.55" fill="none"/>
<path d="M1004.11 578.49L1008.07 578.95L1014.65 579.43L1018.1 579.56L1024.8 579.56L1031.49 579.23L1038.06 578.58L1041.48 578.11L1047.98 576.99L1054.52 575.52L1060.98 573.74L1067.34 571.64L1073.68 569.19L1077.16 567.69L1078.09 567.03L1078.64 566.34L1079.01 565.54L1079.17 564.67L1079.11 563.79L1078.81 562.87L1078.27 562.07L1077.53 561.44L1076.66 561.02L1075.88 560.87L1073.74 560.76L1070.1 560.41L1066.98 559.95L1063.98 559.35L1059.32 558.12L1056.33 557.13L1053.39 556L1049.1 554.03L1044.96 551.74L1041 549.16L1037.24 546.3L1033.7 543.17L1030.4 539.78L1027.36 536.16L1024.6 532.33L1022.91 529.67L1021.36 526.93L1019.95 524.11L1018.7 521.31L1017.57 518.37L1016.58 515.38L1015.73 512.34L1015.17 509.91L1014.94 509.29L1014.36 508.52L1013.58 507.98L1012.66 507.7L1011.71 507.73L1011.07 507.93L1010.44 508.3L1002.49 514.77L1002.1 515.2L1001.82 515.64L1001.63 516.12L1001.51 516.7L1001.5 575.67L1001.72 576.66L1002.31 577.57L1003.13 578.19L1004.11 578.49Z" stroke="#000" stroke-width="1.55" fill="none"/>
<path d="M1123 456.72L1124.54 458.51L1126.35 460.84L1128.86 464.49L1130.38 467.03L1131.77 469.63L1133.62 473.66L1135.16 477.82L1136.4 482.07L1137.04 484.96L1137.55 487.87L1137.91 490.8L1138.1 493.33L1138.45 494.28L1138.98 495.27L1139.9 496.44L1141.02 497.41L1142.32 498.15L1143.73 498.62L1145.21 498.8L1146.7 498.69L1148.14 498.29L1149.47 497.62L1150.36 496.95L1151.15 496.16L1151.82 495.27L1152.42 494.11L1158.34 475.9L1146.82 475.9L1147.9 471.51L1148.56 468.39L1149.65 462.12L1150.08 458.97L1150.7 452.64L1150.89 449.46L1151.05 443.1L1150.89 436.74L1150.7 433.56L1150.08 427.23L1149.65 424.08L1148.56 417.81L1147.9 414.69L1146.82 410.3L1158.34 410.3L1152.62 392.62L1152.27 391.75L1151.5 390.47L1150.5 389.37L1149.31 388.48L1147.96 387.84L1146.88 387.55L1145.96 387.42L1145.03 387.41L1144.1 387.51L1142.84 387.84L1141.82 388.3L1140.87 388.9L1140 389.65L1138.56 389.57L1138.24 392.46L1138.1 392.87L1137.91 395.4L1137.55 398.33L1136.74 402.69L1136.02 405.56L1135.16 408.38L1133.62 412.54L1132.42 415.24L1131.09 417.88L1129.64 420.45L1128.05 422.95L1125.46 426.54L1123.58 428.82L1121.59 431.02L1118.44 434.1L1116.18 436.04L1112.65 438.81L1111.81 439.83L1111.22 441.01L1111.01 441.71L1110.87 442.59L1110.92 444.05L1111.33 445.46L1112.07 446.73L1112.98 447.69L1116.18 450.16L1118.44 452.1L1120.58 454.14L1123 456.72Z" stroke="#000" stroke-width="1.55" fill="none"/>
<path d="M1127 430.97L1124.47 433.79L1121.14 437.04L1118.7 439.15L1115.38 441.74L1115.09 442.14L1114.9 442.64L1114.85 443.17L1114.94 443.7L1115.14 444.15L1115.48 444.57L1118.7 447.05L1121.09 449.11L1123.37 451.28L1125.54 453.56L1128.61 457.2L1130.49 459.73L1132.24 462.35L1133.86 465.06L1136.04 469.25L1137.9 473.59L1138.96 476.56L1140.28 481.1L1141.02 484.48L1141.23 484.46L1142.11 492.66L1142.41 493.2L1142.79 493.68L1143.33 494.14L1143.86 494.45L1144.44 494.67L1145.14 494.79L1145.75 494.78L1146.44 494.64L1147.17 494.33L1147.82 493.87L1148.29 493.34L1148.69 492.66L1152.84 479.9L1141.54 479.9L1142.5 476.61L1144 470.63L1144.64 467.61L1145.69 461.54L1146.1 458.48L1146.71 452.34L1147.01 446.18L1147.05 443.1L1147.01 440.02L1146.71 433.86L1146.1 427.72L1145.69 424.66L1144.64 418.59L1144 415.57L1142.5 409.59L1141.54 406.3L1152.84 406.3L1148.73 393.62L1148.39 393L1148.01 392.52L1147.54 392.11L1147.02 391.78L1146.36 391.53L1145.66 391.41L1144.96 391.43L1144.27 391.58L1143.63 391.87L1143.05 392.27L1142.56 392.79L1142.18 393.38L1142.06 393.66L1141.89 395.79L1141.51 398.92L1140.64 403.57L1139.87 406.62L1138.96 409.64L1137.31 414.07L1135.35 418.37L1133.07 422.51L1130.49 426.47L1128.61 429L1127 430.97Z" stroke="#000" stroke-width="1.55" fill="none"/>
<path d="M984.02 316.9L980.07 317.54M974.91 310.59L975.69 314.51M888.89 396.78L892.83 397.48M905.19 404.65L902.2 401.99M976.93 369.93L976.66 365.94M984 363.58L980.06 362.89" stroke="#000" stroke-width="1.1" fill="none"/>
<path d="M980.07 568.66L984.02 569.3M975.69 571.69L974.91 575.61M892.83 488.72L888.89 489.42M902.2 484.21L905.19 481.55M976.66 520.26L976.93 516.27M980.06 523.31L984 522.62" stroke="#000" stroke-width="1.1" fill="none"/>
<path d="M1002.43 303.99L1003.66 307.8M997.59 309.55L1001.53 310.26M997.58 370.24L1001.52 369.58M999.48 374.08L1002.42 371.37M1008.65 381.51L1010.65 378.05M1018.8 378.05L1015.09 376.55M1076.96 329.22L1076.17 325.29M1079.48 315.23L1077.37 318.62" stroke="#000" stroke-width="1.1" fill="none"/>
<path d="M1003.66 578.4L1002.43 582.21M1001.53 575.94L997.59 576.65M1001.52 516.62L997.58 515.96M1002.42 514.83L999.48 512.12M1010.65 508.15L1008.65 504.69M1015.09 509.65L1018.8 508.15M1076.17 560.91L1076.96 556.98M1077.37 567.58L1079.48 570.97" stroke="#000" stroke-width="1.1" fill="none"/>
<path d="M1152.27 391.74L1148.68 393.52M1138.12 393.03L1142.02 393.94M1112.68 438.78L1115.55 441.57M1112.53 447.27L1115.47 444.56M1138.15 493.48L1142.01 492.43M1152.18 494.64L1148.63 492.79" stroke="#000" stroke-width="1.1" fill="none"/>
<path d="M1145.9 479.6L1149 476.2M1143.4 475.6L1148.3 473.9" stroke="#000" stroke-width="1" fill="none"/>
<path d="M1145.9 406.6L1149 410M1143.4 410.6L1148.3 412.3" stroke="#000" stroke-width="1" fill="none"/>
<circle cx="945.3" cy="351.7" r="16.7" stroke="#000" stroke-width="1.55" fill="#fff"/>
<circle cx="945.3" cy="351.7" r="12.8" stroke="#000" stroke-width="1.55" fill="none"/>
<circle cx="945.3" cy="351.7" r="7.9" stroke="#000" stroke-width="1.55" fill="none"/>
<circle cx="945.3" cy="534.5" r="16.7" stroke="#000" stroke-width="1.55" fill="#fff"/>
<circle cx="945.3" cy="534.5" r="12.8" stroke="#000" stroke-width="1.55" fill="none"/>
<circle cx="945.3" cy="534.5" r="7.9" stroke="#000" stroke-width="1.55" fill="none"/>
<path d="M1021.3 209.5L1021.3 715.5" stroke="#000" stroke-width="1.55"/>
<path d="M945.2 209.5L945.2 351.8" stroke="#000" stroke-width="1.55"/>
<path d="M820 351.8L945.3 351.8" stroke="#000" stroke-width="1.55"/>
<path d="M820 534.4L945.3 534.4" stroke="#000" stroke-width="1.55"/>
<path d="M968.1 443L968.1 672.5" stroke="#000" stroke-width="1.55"/>
<path d="M1078 389.3L1279.5 389.3" stroke="#000" stroke-width="1.55"/>
<path d="M1279.5 496.9H1078V715.5" stroke="#000" stroke-width="1.55" fill="none"/>
<path d="M890 227.9L1189.8 227.9" stroke="#000" stroke-width="1.55"/>
<path d="M945.2 227.9L908.9 232.45L908.9 223.35Z" fill="#000" stroke="none"/>
<path d="M1021.3 227.9L1057.6 223.35L1057.6 232.45Z" fill="#000" stroke="none"/>
<g transform="translate(1093.8 221.4) rotate(0)"><path d="M33.56 -15.56H51.04M42.3 -28.86V-3.46M33.56 -0.82H51.04" stroke="#000" stroke-width="1.65" fill="none"/><ellipse cx="74.87" cy="-1.87" rx="1.65" ry="2.07" fill="#000"/><g fill="#000" stroke="#fff" stroke-width="0.5"><use href="#g1" transform="translate(0.38 0) scale(0.02667 0.0403)"/><use href="#g0" transform="translate(14.48 0) scale(0.02667 0.0403)"/><use href="#g0" transform="translate(56.78 0) scale(0.02667 0.0403)"/><use href="#g1" transform="translate(84.98 0) scale(0.02667 0.0403)"/></g></g>
<path d="M838.1 351.8L838.1 534.4" stroke="#000" stroke-width="1.55"/>
<path d="M838.1 351.8L842.65 388.1L833.55 388.1Z" fill="#000" stroke="none"/>
<path d="M838.1 534.4L833.55 498.1L842.65 498.1Z" fill="#000" stroke="none"/>
<g transform="translate(832.3 490.8) rotate(-90)"><path d="M33.32 -16.09H50.68M42 -29.84V-3.58M33.32 -0.85H50.68" stroke="#000" stroke-width="1.71" fill="none"/><ellipse cx="74.34" cy="-1.95" rx="1.71" ry="2.15" fill="#000"/><g fill="#000" stroke="#fff" stroke-width="0.5"><use href="#g2" transform="translate(0.38 0) scale(0.02648 0.04167)"/><use href="#g4" transform="translate(14.38 0) scale(0.02648 0.04167)"/><use href="#g0" transform="translate(56.38 0) scale(0.02648 0.04167)"/><use href="#g1" transform="translate(84.38 0) scale(0.02648 0.04167)"/></g></g>
<path d="M1260.7 389.3L1260.7 496.9" stroke="#000" stroke-width="1.55"/>
<path d="M1260.7 389.3L1265.25 425.6L1256.15 425.6Z" fill="#000" stroke="none"/>
<path d="M1260.7 496.9L1256.15 460.6L1265.25 460.6Z" fill="#000" stroke="none"/>
<g transform="translate(1254.5 493.1) rotate(-90)"><path d="M33.8 -15.79H51.4M42.6 -29.29V-3.51M33.8 -0.84H51.4" stroke="#000" stroke-width="1.67" fill="none"/><ellipse cx="75.4" cy="-1.91" rx="1.67" ry="2.11" fill="#000"/><g fill="#000" stroke="#fff" stroke-width="0.5"><use href="#g1" transform="translate(0.39 0) scale(0.02686 0.04091)"/><use href="#g4" transform="translate(14.59 0) scale(0.02686 0.04091)"/><use href="#g0" transform="translate(57.19 0) scale(0.02686 0.04091)"/><use href="#g1" transform="translate(85.59 0) scale(0.02686 0.04091)"/></g></g>
<path d="M913 654.5L1076.3 654.5" stroke="#000" stroke-width="1.55"/>
<path d="M968.1 654.5L931.8 659.05L931.8 649.95Z" fill="#000" stroke="none"/>
<path d="M1021.3 654.5L1057.6 649.95L1057.6 659.05Z" fill="#000" stroke="none"/>
<g transform="translate(986.9 648.6) rotate(0)"><g fill="#000" stroke="#fff" stroke-width="0.5"><use href="#g7" transform="translate(0.38 0) scale(0.02667 0.03939)"/></g></g>
<path d="M966.3 697.2L1154.8 697.2" stroke="#000" stroke-width="1.55"/>
<path d="M1021.3 697.2L985 701.75L985 692.65Z" fill="#000" stroke="none"/>
<path d="M1078 697.2L1114.3 692.65L1114.3 701.75Z" fill="#000" stroke="none"/>
<g transform="translate(1112.9 691.6) rotate(0)"><ellipse cx="18.47" cy="-1.83" rx="1.61" ry="2.03" fill="#000"/><g fill="#000" stroke="#fff" stroke-width="0.5"><use href="#g7" transform="translate(0.38 0) scale(0.02667 0.03939)"/><use href="#g5" transform="translate(28.58 0) scale(0.02667 0.03939)"/></g></g>
<circle cx="586" cy="1035.4" r="141.2" stroke="#0a0a0a" stroke-width="1.2" fill="none"/>
<circle cx="586" cy="1035.4" r="134.5" stroke="#0a0a0a" stroke-width="1.2" fill="none"/>
<circle cx="586" cy="1035.4" r="114.5" stroke="#0a0a0a" stroke-width="1.2" fill="none"/>
<circle cx="565.7" cy="1035.4" r="26.75" stroke="#0a0a0a" stroke-width="1.2" fill="none"/>
<circle cx="532" cy="975.5" r="16.7" stroke="#0a0a0a" stroke-width="1.2" fill="none"/>
<circle cx="532" cy="1096.4" r="16.7" stroke="#0a0a0a" stroke-width="1.2" fill="none"/>
<circle cx="619.5" cy="988.6" r="20" stroke="#0a0a0a" stroke-width="1.2" fill="none"/>
<circle cx="619.5" cy="1083" r="20" stroke="#0a0a0a" stroke-width="1.2" fill="none"/>
<path d="M1011.5 907.8L721.3 887.4H519A148 148 0 0 0 519 1183.4H721.3L951.5 1167.6" stroke="#0a0a0a" stroke-width="1.2" fill="none"/>
<path d="M1011.5 907.8C1008.72 914.88 999.8 937.02 994.8 950.3C989.8 963.58 984.82 975.98 981.5 987.5C978.18 999.02 976.22 1011.43 974.9 1019.4C973.58 1027.37 974.05 1028.22 973.6 1035.3C973.15 1042.38 973.08 1052.17 972.2 1061.9C971.32 1071.63 970.07 1082.2 968.3 1093.7C966.53 1105.2 964.4 1118.58 961.6 1130.9C958.8 1143.22 953.18 1161.48 951.5 1167.6" stroke="#0a0a0a" stroke-width="1.2" fill="none"/>
<path d="M371 1035.4L973.6 1035.4" stroke="#0a0a0a" stroke-width="1.2"/>
<path d="M266.3 975.5L532 975.5" stroke="#0a0a0a" stroke-width="1.2"/>
<path d="M309.5 988.6L619.5 988.6" stroke="#0a0a0a" stroke-width="1.2"/>
<path d="M309.5 1083L619.5 1083" stroke="#0a0a0a" stroke-width="1.2"/>
<path d="M266.3 1096.5L532 1096.5" stroke="#0a0a0a" stroke-width="1.2"/>
<path d="M586 835L586 1263.6" stroke="#3a3a3a" stroke-width="1.2"/>
<path d="M619.5 835L619.5 988.6" stroke="#0a0a0a" stroke-width="1.2"/>
<path d="M565.8 1035.4L565.8 1263.6" stroke="#3a3a3a" stroke-width="1.2"/>
<path d="M537.5 851.55L678.3 851.55" stroke="#0a0a0a" stroke-width="1.2"/>
<path d="M586 851.55L554 855.65L554 847.45Z" fill="#000" stroke="none"/>
<path d="M619.5 851.55L651.5 847.45L651.5 855.65Z" fill="#000" stroke="none"/>
<g transform="translate(642.2 846.8) rotate(0)"><ellipse cx="16.51" cy="-1.58" rx="1.41" ry="1.78" fill="#000"/><g fill="#000" stroke="#fff" stroke-width="0.5"><use href="#g7" transform="translate(0.34 0) scale(0.02383 0.03455)"/><use href="#g5" transform="translate(25.54 0) scale(0.02383 0.03455)"/></g></g>
<path d="M282.45 975.5L282.45 1096.5" stroke="#0a0a0a" stroke-width="1.2"/>
<path d="M282.45 975.5L286.55 1007.5L278.35 1007.5Z" fill="#000" stroke="none"/>
<path d="M282.45 1096.5L278.35 1064.5L286.55 1064.5Z" fill="#000" stroke="none"/>
<g transform="translate(277.4 1048.4) rotate(-90)"><g fill="#000" stroke="#fff" stroke-width="0.5"><use href="#g2" transform="translate(0.34 0) scale(0.02383 0.03561)"/><use href="#g4" transform="translate(12.94 0) scale(0.02383 0.03561)"/></g></g>
<path d="M325.5 988.6L325.5 1083" stroke="#0a0a0a" stroke-width="1.2"/>
<path d="M325.5 988.6L329.6 1020.6L321.4 1020.6Z" fill="#000" stroke="none"/>
<path d="M325.5 1083L321.4 1051L329.6 1051Z" fill="#000" stroke="none"/>
<g transform="translate(320.4 1048.6) rotate(-90)"><g fill="#000" stroke="#fff" stroke-width="0.5"><use href="#g1" transform="translate(0.34 0) scale(0.02383 0.03561)"/><use href="#g4" transform="translate(12.94 0) scale(0.02383 0.03561)"/></g></g>
<path d="M520.1 1247.4L634.7 1247.4" stroke="#0a0a0a" stroke-width="1.2"/>
<path d="M565.8 1247.4L533.8 1251.5L533.8 1243.3Z" fill="#000" stroke="none"/>
<path d="M586 1247.4L618 1243.3L618 1251.5Z" fill="#000" stroke="none"/>
<g transform="translate(518.3 1242.4) rotate(0)"><g fill="#000" stroke="#fff" stroke-width="0.5"><use href="#g7" transform="translate(0.34 0) scale(0.02383 0.03455)"/></g></g>
<path d="M430 1219.4L574.5 1045.8" stroke="#0a0a0a" stroke-width="1.2"/>
<path d="M521.31 1109.23L503.98 1136.43L497.68 1131.18Z" fill="#000" stroke="none"/>
<path d="M542.69 1083.57L560.02 1056.37L566.32 1061.62Z" fill="#000" stroke="none"/>
<g transform="translate(424.74 1218.53) rotate(-50.19)"><path d="M2.14 0.68L12.22 -23.26" stroke="#000" stroke-width="1.06"/><ellipse cx="29.11" cy="-1.58" rx="1.41" ry="1.78" fill="#000"/><g fill="#000" stroke="#fff" stroke-width="0.5"><use href="#g0" transform="translate(0.97 0) scale(0.02383 0.03455)"/><use href="#g5" transform="translate(12.94 0) scale(0.02383 0.03455)"/><use href="#g5" transform="translate(38.14 0) scale(0.02383 0.03455)"/></g></g>
</svg>
</body></html>
